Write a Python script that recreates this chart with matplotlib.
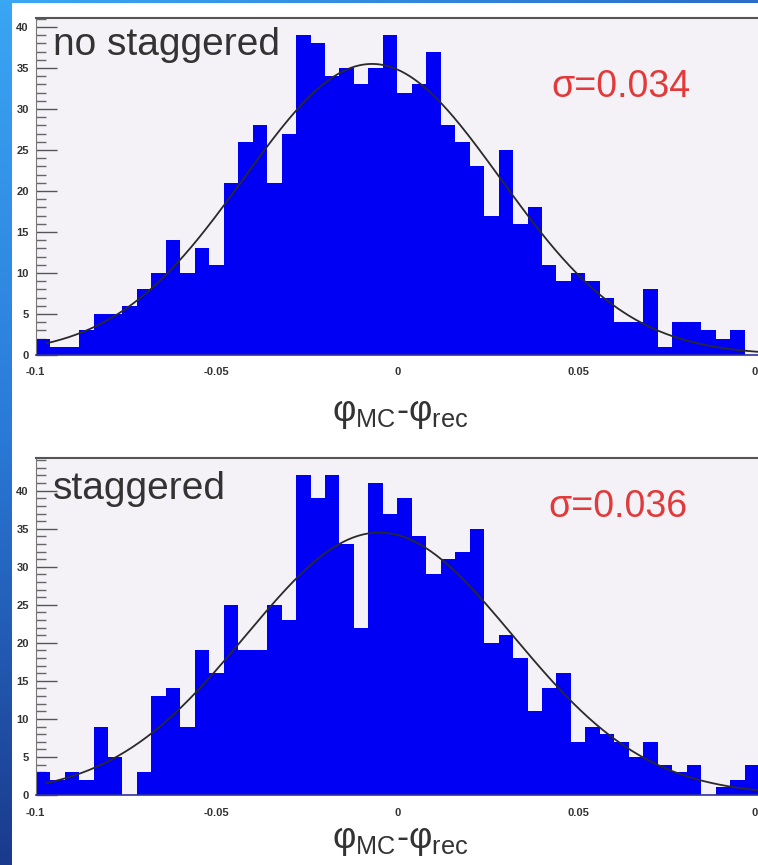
import numpy as np
import matplotlib.pyplot as plt
from matplotlib.colors import LinearSegmentedColormap
from matplotlib.ticker import MultipleLocator

plt.rcParams['font.family'] = ['Liberation Sans', 'DejaVu Sans']
plt.rcParams['mathtext.fontset'] = 'custom'
plt.rcParams['mathtext.rm'] = 'Liberation Sans'
plt.rcParams['mathtext.it'] = 'Liberation Sans'

# histogram range / binning
x_min, x_max, n_bins = -0.1, 0.1, 50

# bin contents
counts_no_stag = [2, 1, 1, 3, 5, 5, 6, 8, 10, 14, 10, 13, 11, 21, 26, 28, 21, 27, 39, 38,
                  34, 35, 33, 35, 39, 32, 33, 37, 28, 26, 23, 17, 25, 16, 18, 11, 9, 10, 9, 7,
                  4, 4, 8, 1, 4, 4, 3, 2, 3, 0]
counts_stag = [3, 2, 3, 2, 9, 5, 0, 3, 13, 14, 9, 19, 16, 25, 19, 19, 25, 23, 42, 39,
               42, 33, 22, 41, 37, 39, 34, 29, 31, 32, 35, 20, 21, 18, 11, 14, 16, 7, 9, 8,
               7, 5, 7, 4, 3, 4, 0, 1, 2, 4]

# gaussian fit curves (amplitude, mean, width) as drawn
fit_no_stag = (35.5, -0.007, 0.0355)
fit_stag = (34.5, -0.005, 0.037)

labels = ['no staggered', 'staggered']
sigma_labels = ['σ=0.034', 'σ=0.036']
xtick_vals = [-0.1, -0.05, 0, 0.05, 0.1]
xtick_labels = ['-0.1', '-0.05', '0', '0.05', '0.1']

W, H = 758, 865
fig = plt.figure(figsize=(W / 100, H / 100), dpi=100)
fig.patch.set_facecolor('white')


def fx(px):
    return px / W


def fy(py):
    return 1 - py / H


# slide background strips
bg = fig.add_axes([0, 0, 1, 1], zorder=-10)
bg.axis('off')
grad = np.linspace(0, 1, 256).reshape(-1, 1)
cm_left = LinearSegmentedColormap.from_list('l', ['#3aa6f4', '#2a7ad8', '#1a3a8c'])
bg.imshow(grad, extent=[0, 12, H, 0], cmap=cm_left, aspect='auto')
cm_top = LinearSegmentedColormap.from_list('t', ['#3aa8f4', '#2a6cc8'])
bg.imshow(grad.T, extent=[0, W, 3.5, 0], cmap=cm_top, aspect='auto')
bg.set_xlim(0, W)
bg.set_ylim(H, 0)


def draw_panel(top_px, bottom_px, ymax, counts, fit, label, label_base, sigma_text, sigma_pos, xlabel_y):
    left_px, right_px = 35.7, 759
    ax = fig.add_axes([fx(left_px), fy(bottom_px), (right_px - left_px) / W, (bottom_px - top_px) / H])
    ax.set_facecolor('#f4f2f6')
    edges = np.linspace(x_min, x_max, n_bins + 1)
    ax.stairs(counts, edges, fill=True, color='#0000f5', zorder=2)
    amp, mu, wid = fit
    xs = np.linspace(-0.097, 0.1, 400)
    ax.plot(xs, amp * np.exp(-0.5 * ((xs - mu) / wid) ** 2), color='#2a2a2a', lw=1.3, zorder=3)
    ax.set_xlim(x_min, x_max)
    ax.set_ylim(0, ymax)

    ax.yaxis.set_major_locator(MultipleLocator(5))
    ax.yaxis.set_minor_locator(MultipleLocator(1))
    ax.tick_params(axis='y', which='major', direction='in', length=15, width=1, color='#555555',
                   pad=5, labelsize=8, labelcolor='#333333')
    ax.tick_params(axis='y', which='minor', direction='in', length=7, width=1, color='#666666')
    for t in ax.get_yticklabels():
        t.set_fontweight('bold')
    ax.set_xticks(xtick_vals)
    ax.set_xticklabels(xtick_labels, fontsize=8, fontweight='bold', color='#333333')
    ax.tick_params(axis='x', length=0, pad=9)

    ax.spines['top'].set_color('#555555')
    ax.spines['top'].set_linewidth(1.5)
    ax.spines['left'].set_color('#777777')
    ax.spines['bottom'].set_color('#3030a0')
    ax.spines['bottom'].set_linewidth(1.2)
    ax.spines['right'].set_visible(False)

    fig.text(fx(53), fy(label_base), label, fontsize=28, color='#333333', va='baseline', ha='left')
    fig.text(fx(sigma_pos[0]), fy(sigma_pos[1]), sigma_text, fontsize=27, color='#e23a3a',
             va='baseline', ha='left')
    fig.text(fx(400), fy(xlabel_y), r'$\mathregular{φ_{MC}}$-$\mathregular{φ_{rec}}$',
             fontsize=26, color='#333333', ha='center', va='center')
    return ax


draw_panel(18, 355, 41.1, counts_no_stag, fit_no_stag, labels[0], 55, sigma_labels[0], (551, 97), 413)
draw_panel(458, 795, 44.3, counts_stag, fit_stag, labels[1], 499, sigma_labels[1], (548, 517), 840)

fig.savefig('out.png', dpi=100, facecolor=fig.get_facecolor())
